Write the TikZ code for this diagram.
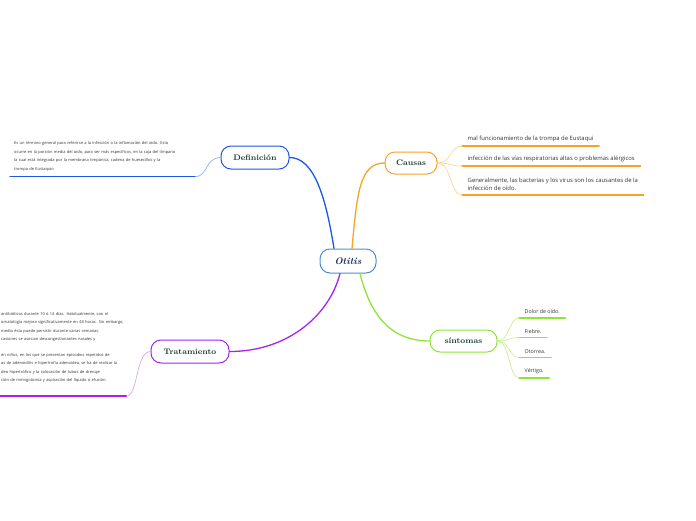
\documentclass[tikz,border=0pt]{standalone}
\usepackage{fontspec}
\newfontfamily\leaffont{Open Sans}
\definecolor{otblue}{HTML}{4A90D0}
\definecolor{otnavy}{HTML}{1A2550}
\definecolor{defblue}{HTML}{1E56E8}
\definecolor{deflight}{HTML}{8FB0F2}
\definecolor{causorange}{HTML}{F7A423}
\definecolor{causlight}{HTML}{FDD497}
\definecolor{trpurple}{HTML}{A424F0}
\definecolor{trlight}{HTML}{DAA6F8}
\definecolor{sigreen}{HTML}{8FE535}
\definecolor{silight}{HTML}{C8F28E}
\definecolor{labelcol}{HTML}{1B3B36}
\definecolor{leafcol}{HTML}{333333}
\begin{document}
\begin{tikzpicture}[x=1pt,y=-1pt,line join=round,line cap=round,
	topic/.style={draw,rounded corners=10pt,line width=1pt,fill=white,minimum height=22pt,inner xsep=2pt,
		font=\bfseries\fontsize{8}{10}\selectfont,text=labelcol},
	leaf/.style={anchor=south west,align=left,inner xsep=5.5pt,inner ysep=4pt,
		font=\leaffont\fontsize{5.3}{8.5}\selectfont,text=leafcol},
	bigleaf/.style={leaf,font=\leaffont\fontsize{5.9}{8.5}\selectfont},
	small/.style={font=\leaffont\fontsize{4}{8.6}\selectfont},
	branch/.style={line width=1.3pt},
	twig/.style={line width=0.7pt},
	uline/.style={line width=1.2pt}]
	\useasboundingbox (0,0) rectangle (696,520);
	\node[topic,draw=otblue,text=otnavy,minimum width=56pt,minimum height=24pt,
		font=\bfseries\itshape\fontsize{9.5}{11}\selectfont] (otitis) at (348,261) {Otitis};
	\node[topic,draw=defblue,minimum width=68pt,minimum height=23pt] (def) at (255,157.5) {Definición};
	\node[topic,draw=causorange,minimum width=52pt] (causas) at (411,163) {Causas};
	\node[topic,draw=trpurple,minimum width=78pt,minimum height=23pt] (trat) at (190,351.5) {Tratamiento};
	\node[topic,draw=sigreen,minimum width=67pt] (sint) at (463.5,341) {síntomas};
	% main branches
	\draw[branch,defblue] ([xshift=-14pt]otitis.north) .. controls +(-8,-50) and +(25,0) .. (def.east);
	\draw[branch,causorange] ([xshift=4pt]otitis.north) .. controls +(5,-55) and +(-25,0) .. (causas.west);
	\draw[branch,trpurple] ([xshift=-8pt]otitis.south) .. controls +(-10,40) and +(60,0) .. (trat.east);
	\draw[branch,sigreen] ([xshift=12pt]otitis.south) .. controls +(10,40) and +(-40,0) .. (sint.west);
	% Definicion
	\node[leaf,small,text width=177pt,inner xsep=4pt,inner ysep=5pt] (deftext) at (10,176.7)
		{Es un término general para referirse a la infección o la inflamación del oído. Esto\\
		ocurre en la porción media del oído, para ser más específicos, en la caja del tímpano\\
		la cual está integrada por la membrana timpánica, cadena de huesecillos y la\\
		trompa de Eustaquio};
	\draw[uline,defblue] (deftext.south west) -- (deftext.south east);
	\draw[twig,deflight] (def.west) .. controls +(-15,0) and +(12,0) .. (deftext.south east);
	% Causas
	\node[bigleaf] (c1) at (462,146) {mal funcionamiento de la trompa de Eustaqui};
	\node[bigleaf] (c2) at (462,166) {infección de las vías respiratorias altas o problemas alérgicos};
	\node[bigleaf] (c3) at (462,195) {Generalmente, las bacterias y los virus son los causantes de la\\ infección de oído.};
	\foreach \c in {c1,c2,c3}{
		\draw[uline,causorange] (\c.south west) -- (\c.south east);
		\draw[twig,causlight] (causas.east) .. controls +(14,0) and +(-12,0) .. (\c.south west);
	}
	% sintomas
	\node[leaf] (s1) at (519,318) {Dolor de oído.};
	\node[leaf] (s2) at (519,337.5) {Fiebre.};
	\node[leaf] (s3) at (519,357.5) {Otorrea.};
	\node[leaf] (s4) at (519,378) {Vértigo.};
	\foreach \s in {s1,s2,s3,s4}{
		\draw[uline,sigreen] (\s.south west) -- (\s.south east);
		\draw[twig,silight] (sint.east) .. controls +(12,0) and +(-10,0) .. (\s.south west);
	}
	% Tratamiento
	\node[leaf,small,text width=124pt,inner xsep=1pt,inner ysep=13pt] (trattext) at (0,396)
		{antibióticos durante 10 ó 14 días. Habitualmente, con el\\
		omatología mejora significativamente en 48 horas. Sin embargo,\\
		medio ésta puede persistir durante varias semanas.\\
		casiones se asocian descongestionantes nasales y\\[6.6pt]
		en niños, en los que se presentan episodios repetidos de\\
		as de adenoiditis e hipertrofia adenoidea, se ha de realizar la\\
		deo hipertrófico y la colocación de tubos de drenaje\\
		ción de miringotomía y aspiración del líquido o efusión.};
	\draw[uline,trpurple] (trattext.south west) -- (trattext.south east);
	\draw[twig,trlight] (trat.west) .. controls +(-15,0) and +(12,0) .. (trattext.south east);
\end{tikzpicture}
\end{document}
